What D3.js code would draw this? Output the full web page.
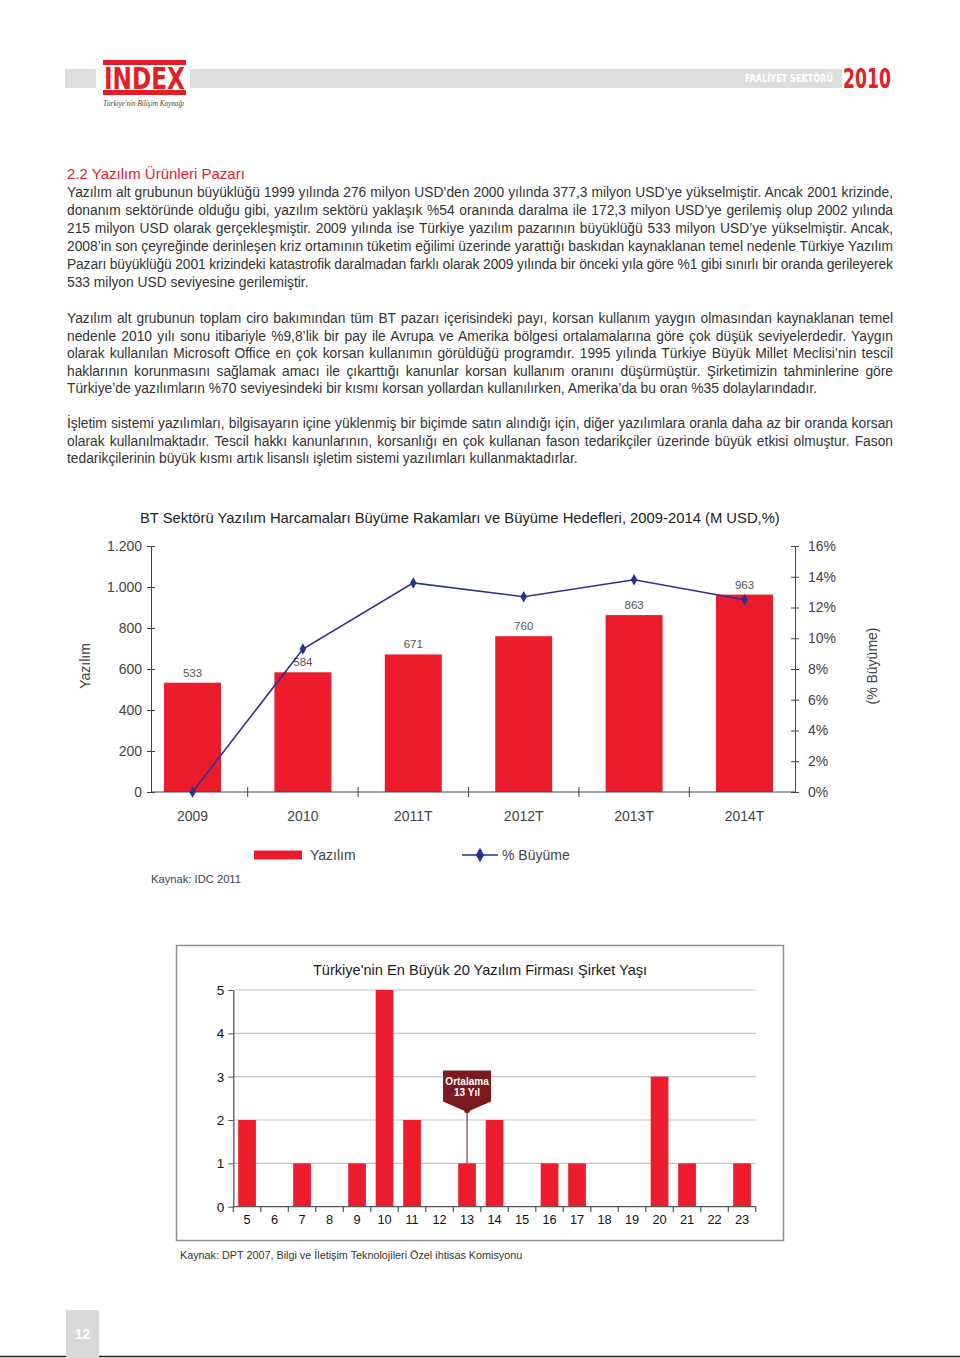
<!DOCTYPE html>
<html><head><meta charset="utf-8">
<script src="https://cdn.jsdelivr.net/npm/d3@7"></script>
<style>
body{margin:0;background:#fff}
svg{display:block}
text{font-family:"Liberation Sans",Arial,Helvetica,sans-serif}
</style>
</head><body><div id="c"></div>
<script>
// ---------- DATA ----------
const years = ["2009","2010","2011T","2012T","2013T","2014T"];
const softwareSpend = [533,584,671,760,863,963];
const growthPct = [0,9.3,13.6,12.7,13.8,12.5];
const leftTicks = [0,200,400,600,800,1000,1200];
const leftTickLabels = ["0","200","400","600","800","1.000","1.200"];
const rightTicks = [0,2,4,6,8,10,12,14,16];
const rightTickLabels = ["0%","2%","4%","6%","8%","10%","12%","14%","16%"];

const ages = ["5","6","7","8","9","10","11","12","13","14","15","16","17","18","19","20","21","22","23"];
const firmCounts = [2,0,1,0,1,5,2,0,1,2,0,1,1,0,0,3,1,0,1];
const ageTicks = [0,1,2,3,4,5];
const avgAge = "13";

const chart1Title = "BT Sektörü Yazılım Harcamaları Büyüme Rakamları ve Büyüme Hedefleri, 2009-2014 (M USD,%)";
const chart2Title = "Türkiye'nin En Büyük 20 Yazılım Firması Şirket Yaşı";

const heading = "2.2  Yazılım Ürünleri Pazarı";
const para1 = [
"Yazılım alt grubunun büyüklüğü 1999 yılında 276 milyon USD’den 2000 yılında 377,3 milyon USD’ye yükselmiştir. Ancak 2001 krizinde,",
"donanım sektöründe olduğu gibi, yazılım sektörü yaklaşık %54 oranında daralma ile 172,3 milyon USD’ye gerilemiş olup 2002 yılında",
"215 milyon USD olarak gerçekleşmiştir. 2009 yılında ise Türkiye yazılım pazarının büyüklüğü 533 milyon USD’ye yükselmiştir. Ancak,",
"2008’in son çeyreğinde derinleşen kriz ortamının tüketim eğilimi üzerinde yarattığı baskıdan kaynaklanan temel nedenle Türkiye Yazılım",
"Pazarı büyüklüğü 2001 krizindeki katastrofik daralmadan farklı olarak 2009 yılında bir önceki yıla göre %1 gibi sınırlı bir oranda gerileyerek",
"533 milyon USD seviyesine gerilemiştir."];
const para2 = [
"Yazılım alt grubunun toplam ciro bakımından tüm BT pazarı içerisindeki payı, korsan kullanım yaygın olmasından kaynaklanan temel",
"nedenle 2010 yılı sonu itibariyle %9,8’lik bir pay ile Avrupa ve Amerika bölgesi ortalamalarına göre çok düşük seviyelerdedir. Yaygın",
"olarak kullanılan Microsoft Office en çok korsan kullanımın görüldüğü programdır. 1995 yılında Türkiye Büyük Millet Meclisi’nin tescil",
"haklarının korunmasını sağlamak amacı ile çıkarttığı kanunlar korsan kullanım oranını düşürmüştür. Şirketimizin tahminlerine göre",
"Türkiye’de yazılımların %70 seviyesindeki bir kısmı korsan yollardan kullanılırken, Amerika’da bu oran %35 dolaylarındadır."];
const para3 = [
"İşletim sistemi yazılımları, bilgisayarın içine yüklenmiş bir biçimde satın alındığı için, diğer yazılımlara oranla daha az bir oranda korsan",
"olarak kullanılmaktadır. Tescil hakkı kanunlarının, korsanlığı en çok kullanan fason tedarikçiler üzerinde büyük etkisi olmuştur. Fason",
"tedarikçilerinin büyük kısmı artık lisanslı işletim sistemi yazılımları kullanmaktadırlar."];

// ---------- SVG ----------
const W = 960, H = 1358;
const svg = d3.select("#c").append("svg").attr("width",W).attr("height",H);
const RED = "#ec1c2d", NAVY = "#2b3190", TXT = "#333";

// ---------- HEADER ----------
svg.append("rect").attr("x",65).attr("y",69).attr("width",777).attr("height",19).attr("fill","#dcdddd");
svg.append("rect").attr("x",96).attr("y",58).attr("width",94).attr("height",40).attr("fill","#fff");
svg.append("rect").attr("x",103).attr("y",60).attr("width",83).attr("height",5).attr("fill","#e41e26");
svg.append("rect").attr("x",103).attr("y",90).attr("width",83).attr("height",5).attr("fill","#e41e26");
svg.append("text").attr("x",104).attr("y",88.5).attr("textLength",81).attr("lengthAdjust","spacingAndGlyphs")
  .style("font-family","'Liberation Sans Narrow','DejaVu Sans Condensed','Liberation Sans',sans-serif")
  .style("font-weight","bold").style("font-size","31px").attr("fill","#e41e26").text("INDEX");
svg.append("text").attr("x",103).attr("y",105.5).attr("textLength",81).attr("lengthAdjust","spacingAndGlyphs")
  .style("font-family","'Liberation Serif',serif").style("font-style","italic").style("font-size","7.5px")
  .attr("fill","#444").text("Türkiye'nin Bilişim Kaynağı");
svg.append("text").attr("x",745).attr("y",82).attr("textLength",88).attr("lengthAdjust","spacingAndGlyphs")
  .style("font-family","'Liberation Sans Narrow','DejaVu Sans Condensed','Liberation Sans',sans-serif")
  .style("font-weight","bold").style("font-size","10.5px").attr("fill","#fff").text("FAALİYET SEKTÖRÜ");
svg.append("text").attr("x",843).attr("y",88).attr("textLength",48).attr("lengthAdjust","spacingAndGlyphs")
  .style("font-family","'Liberation Sans Narrow','DejaVu Sans Condensed','Liberation Sans',sans-serif")
  .style("font-weight","bold").style("font-size","26px").attr("fill","#e41e26").text("2010");

// ---------- BODY TEXT ----------
svg.append("text").attr("x",67).attr("y",179).style("font-size","15px").attr("fill","#e3202d").text(heading);
const TX = 67, TW = 826;
function writePara(lines, y0, step){
  lines.forEach((s,i)=>{
    const t = svg.append("text").attr("x",TX).attr("y",y0+i*step).style("font-size","13.8px").attr("fill",TXT).text(s);
    const w = t.node().getComputedTextLength();
    if(i < lines.length-1){
      const sp = (s.match(/ /g)||[]).length;
      if(w < TW && sp>0) t.style("word-spacing",((TW-w)/sp)+"px");
      else if(w > TW) t.attr("textLength",TW).attr("lengthAdjust","spacing");
    }
  });
}
writePara(para1,197,18);
writePara(para2,323,17.5);
writePara(para3,428,17.5);

// ---------- CHART 1 ----------
const c1 = svg.append("g");
c1.append("text").attr("x",140).attr("y",523).style("font-size","14.8px").attr("fill","#222").text(chart1Title);

const x1 = d3.scaleBand().domain(years).range([151,786]).paddingInner(0.484).paddingOuter(0.118);
const yL = d3.scaleLinear().domain([0,1200]).range([792,546]);
const yR = d3.scaleLinear().domain([0,16]).range([792,546]);
const AX = "#444";

c1.selectAll("rect.bar").data(years).join("rect").attr("class","bar")
  .attr("x",d=>x1(d)).attr("width",x1.bandwidth())
  .attr("y",(d,i)=>yL(softwareSpend[i])).attr("height",(d,i)=>yL(0)-yL(softwareSpend[i]))
  .attr("fill",RED);
c1.selectAll("text.val").data(years).join("text").attr("class","val")
  .attr("x",d=>x1(d)+x1.bandwidth()/2).attr("y",(d,i)=>yL(softwareSpend[i])-6)
  .attr("text-anchor","middle").style("font-size","11.5px").attr("fill","#555")
  .text((d,i)=>softwareSpend[i]);

const gL = c1.append("g").attr("transform","translate(151,0)")
  .call(d3.axisLeft(yL).tickValues(leftTicks).tickFormat((d,i)=>leftTickLabels[i]).tickSize(4).tickSizeOuter(0).tickPadding(5));
gL.select(".domain").attr("stroke",AX);
gL.selectAll(".tick line").attr("x1",4).attr("stroke",AX);
gL.selectAll(".tick text").style("font-size","14px").attr("fill","#444").style("font-family","'Liberation Sans',Arial,sans-serif");

const gR = c1.append("g").attr("transform","translate(795,0)")
  .call(d3.axisRight(yR).tickValues(rightTicks).tickFormat((d,i)=>rightTickLabels[i]).tickSize(4).tickSizeOuter(0).tickPadding(9));
gR.select(".domain").attr("stroke",AX);
gR.selectAll(".tick line").attr("x1",-4).attr("stroke",AX);
gR.selectAll(".tick text").style("font-size","14px").attr("fill","#444").style("font-family","'Liberation Sans',Arial,sans-serif");

const gB = c1.append("g").attr("transform","translate(0,792)")
  .call(d3.axisBottom(x1).tickSize(0).tickPadding(19));
gB.select(".domain").remove();
gB.selectAll(".tick text").style("font-size","14px").attr("fill","#444").style("font-family","'Liberation Sans',Arial,sans-serif");
c1.append("line").attr("x1",151).attr("x2",795).attr("y1",792).attr("y2",792).attr("stroke",AX);
const seps = years.slice(0,-1).map((d,i)=>(x1(d)+x1.bandwidth()+x1(years[i+1]))/2);
c1.selectAll("line.sep").data(seps).join("line").attr("class","sep")
  .attr("x1",d=>d).attr("x2",d=>d).attr("y1",787).attr("y2",797).attr("stroke",AX);

const lineGen = d3.line().x((d,i)=>x1(years[i])+x1.bandwidth()/2).y(d=>yR(d));
c1.append("path").datum(growthPct).attr("d",lineGen).attr("fill","none").attr("stroke",NAVY).attr("stroke-width",1.6);
const diamond = d3.symbol().type(d3.symbolDiamond).size(38);
c1.selectAll("path.pt").data(growthPct).join("path").attr("class","pt")
  .attr("d",diamond).attr("fill",NAVY)
  .attr("transform",(d,i)=>`translate(${x1(years[i])+x1.bandwidth()/2},${yR(d)})`);

c1.append("text").attr("transform","translate(90,666) rotate(-90)").attr("text-anchor","middle")
  .style("font-size","14px").attr("fill","#444").text("Yazılım");
c1.append("text").attr("transform","translate(877,666) rotate(-90)").attr("text-anchor","middle")
  .style("font-size","14px").attr("fill","#444").text("(% Büyüme)");

c1.append("rect").attr("x",254).attr("y",850.5).attr("width",48).attr("height",9).attr("fill",RED);
c1.append("text").attr("x",310).attr("y",860).style("font-size","14px").attr("fill","#444").text("Yazılım");
c1.append("line").attr("x1",462).attr("x2",498).attr("y1",855).attr("y2",855).attr("stroke",NAVY).attr("stroke-width",1.6);
c1.append("path").attr("d",d3.symbol().type(d3.symbolDiamond).size(60)).attr("fill",NAVY).attr("transform","translate(480,855)");
c1.append("text").attr("x",502).attr("y",860).style("font-size","14px").attr("fill","#444").text("% Büyüme");
c1.append("text").attr("x",151).attr("y",883).style("font-size","11.2px").attr("fill","#444").text("Kaynak: IDC 2011");

// ---------- CHART 2 ----------
const c2 = svg.append("g");
c2.append("rect").attr("x",176.5).attr("y",945.5).attr("width",607).attr("height",295)
  .attr("fill","none").attr("stroke","#8f8f8f").attr("stroke-width",1.5);
c2.append("text").attr("x",480).attr("y",975).attr("text-anchor","middle").style("font-size","14.6px").attr("fill","#1a1a1a").text(chart2Title);

const x2 = d3.scaleBand().domain(ages).range([233.3,755.8]).paddingInner(0.356).paddingOuter(0.178);
const y2 = d3.scaleLinear().domain([0,5]).range([1206.7,990]);
const step2 = x2.step();

c2.selectAll("line.grid").data(ageTicks.slice(1)).join("line").attr("class","grid")
  .attr("x1",233.3).attr("x2",755.8).attr("y1",d=>y2(d)).attr("y2",d=>y2(d)).attr("stroke","#c4c4c4").attr("stroke-width",1.2);

c2.selectAll("rect.bar2").data(ages).join("rect").attr("class","bar2")
  .attr("x",d=>x2(d)).attr("width",x2.bandwidth())
  .attr("y",(d,i)=>y2(firmCounts[i])).attr("height",(d,i)=>y2(0)-y2(firmCounts[i]))
  .attr("fill",RED);

const g2L = c2.append("g").attr("transform","translate(233.3,0)")
  .call(d3.axisLeft(y2).tickValues(ageTicks).tickFormat(d3.format("d")).tickSize(5).tickSizeOuter(0).tickPadding(4));
g2L.select(".domain").attr("stroke","#555").attr("stroke-width",1.3);
g2L.selectAll(".tick line").attr("stroke","#555");
g2L.selectAll(".tick text").style("font-size","13.5px").attr("fill","#111").style("font-family","'Liberation Sans',Arial,sans-serif");

const g2B = c2.append("g").attr("transform","translate(0,1206.7)")
  .call(d3.axisBottom(x2).tickSize(0).tickPadding(8));
g2B.select(".domain").remove();
g2B.selectAll(".tick text").style("font-size","12.8px").attr("fill","#111").style("font-family","'Liberation Sans',Arial,sans-serif");
c2.append("line").attr("x1",233.3).attr("x2",755.8).attr("y1",1206.7).attr("y2",1206.7).attr("stroke","#555").attr("stroke-width",1.3);
const bounds2 = ages.map(d=>x2(d)-(step2-x2.bandwidth())/2).concat([755.8]);
c2.selectAll("line.t2").data(bounds2).join("line").attr("class","t2")
  .attr("x1",d=>d).attr("x2",d=>d).attr("y1",1206.7).attr("y2",1212).attr("stroke","#555").attr("stroke-width",1.2);

const ai = ages.indexOf(avgAge);
const ax = x2(avgAge)+x2.bandwidth()/2;
const MAR = "#7b1a1f";
c2.append("line").attr("x1",ax).attr("x2",ax).attr("y1",1111).attr("y2",y2(firmCounts[ai])).attr("stroke",MAR).attr("stroke-width",1);
c2.append("circle").attr("cx",ax).attr("cy",1110.5).attr("r",2.8).attr("fill",MAR);
c2.append("path").attr("d",`M${ax-24},1070.5 H${ax+24} V1101.5 L${ax},1112 L${ax-24},1101.5 Z`).attr("fill",MAR);
c2.append("text").attr("x",ax).attr("y",1085).attr("text-anchor","middle").style("font-size","10px").style("font-weight","bold").attr("fill","#fff").text("Ortalama");
c2.append("text").attr("x",ax).attr("y",1095.5).attr("text-anchor","middle").style("font-size","10px").style("font-weight","bold").attr("fill","#fff").text(avgAge+" Yıl");

svg.append("text").attr("x",180).attr("y",1259).style("font-size","10.8px").attr("fill","#333")
  .text("Kaynak: DPT 2007, Bilgi ve İletişim Teknolojileri Özel ihtisas Komisyonu");

// ---------- FOOTER ----------
svg.append("rect").attr("x",66).attr("y",1310).attr("width",33).attr("height",48).attr("fill","#d9d9d9");
svg.append("text").attr("x",82.5).attr("y",1339).attr("text-anchor","middle").style("font-size","14px").style("font-weight","bold").attr("fill","#fff").text("12");
svg.append("line").attr("x1",0).attr("x2",66).attr("y1",1356.5).attr("y2",1356.5).attr("stroke","#222").attr("stroke-width",1.5);
svg.append("line").attr("x1",99).attr("x2",960).attr("y1",1356.5).attr("y2",1356.5).attr("stroke","#222").attr("stroke-width",1.5);
</script>
</body></html>
